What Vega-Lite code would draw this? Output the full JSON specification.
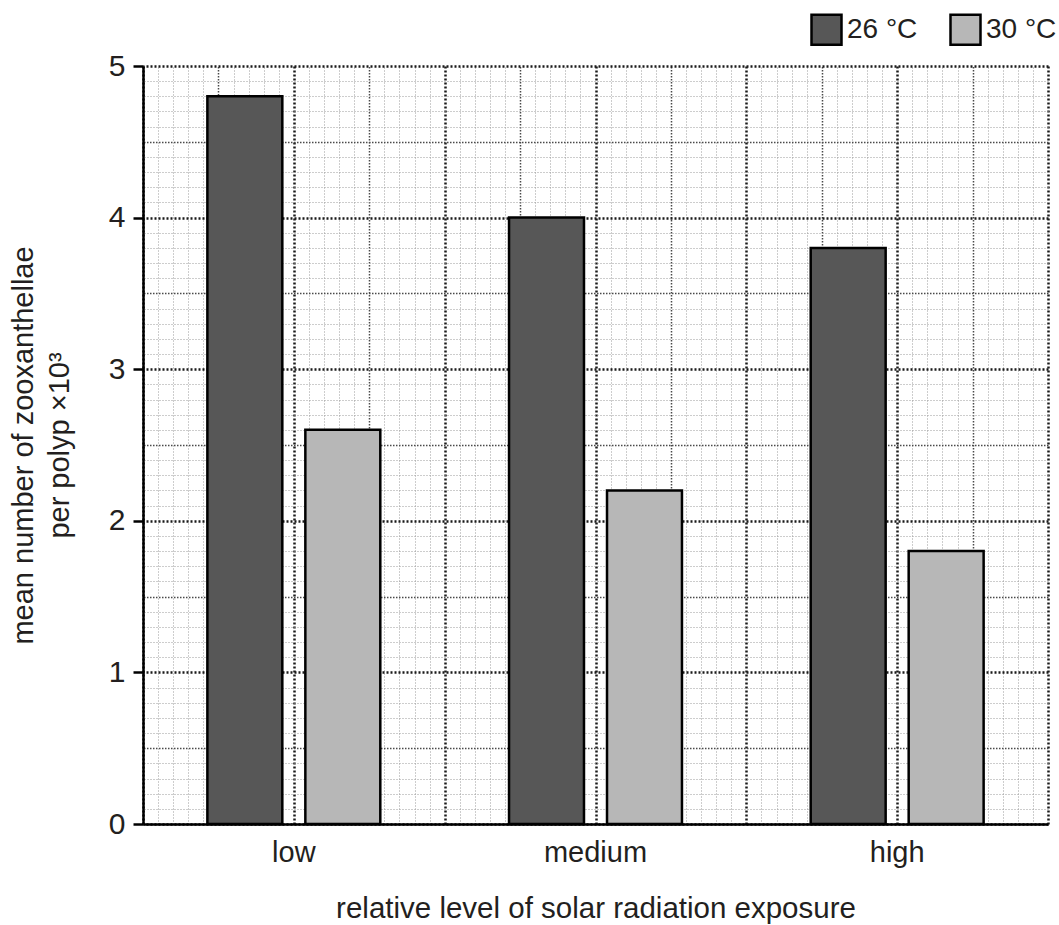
{
  "$schema": "https://vega.github.io/schema/vega-lite/v6.json",
  "width": 905,
  "height": 758,
  "autosize": "none",
  "padding": {"left": 143, "top": 66, "right": 11, "bottom": 101},
  "background": "white",
  "config": {"font": "Liberation Sans", "view": {"stroke": null}},
  "layer": [
    {
      "data": {"values": [{"gx": 0, "gy": 0}]},
      "mark": {"type": "point", "opacity": 0},
      "encoding": {
        "x": {
          "field": "gx", "type": "quantitative",
          "scale": {"domain": [0, 60], "nice": false, "zero": false},
          "axis": {
            "orient": "top", "title": null, "labels": false, "ticks": false, "domain": false,
            "grid": true,
            "values": [0,1,2,3,4,5,6,7,8,9,10,11,12,13,14,15,16,17,18,19,20,21,22,23,24,25,26,27,28,29,30,31,32,33,34,35,36,37,38,39,40,41,42,43,44,45,46,47,48,49,50,51,52,53,54,55,56,57,58,59,60],
            "gridColor": {"condition": [{"test": "datum.value % 10 === 0", "value": "#1a1a1a"}, {"test": "datum.value % 5 === 0", "value": "#4a4a4a"}], "value": "#9a9a9a"},
            "gridWidth": {"condition": [{"test": "datum.value % 10 === 0", "value": 2.5}, {"test": "datum.value % 5 === 0", "value": 1.5}], "value": 1},
            "gridDash": {"condition": [{"test": "datum.value % 10 === 0", "value": [2, 2]}, {"test": "datum.value % 5 === 0", "value": [1.5, 1.5]}], "value": [1, 2]},
            "gridOpacity": 1
          }
        },
        "y": {
          "field": "gy", "type": "quantitative",
          "scale": {"domain": [0, 50], "nice": false, "zero": false},
          "axis": {
            "orient": "right", "title": null, "labels": false, "ticks": false, "domain": false,
            "grid": true,
            "values": [0,1,2,3,4,5,6,7,8,9,10,11,12,13,14,15,16,17,18,19,20,21,22,23,24,25,26,27,28,29,30,31,32,33,34,35,36,37,38,39,40,41,42,43,44,45,46,47,48,49,50],
            "gridColor": {"condition": [{"test": "datum.value % 10 === 0", "value": "#1a1a1a"}, {"test": "datum.value % 5 === 0", "value": "#4a4a4a"}], "value": "#9a9a9a"},
            "gridWidth": {"condition": [{"test": "datum.value % 10 === 0", "value": 2.5}, {"test": "datum.value % 5 === 0", "value": 1.5}], "value": 1},
            "gridDash": {"condition": [{"test": "datum.value % 10 === 0", "value": [2, 2]}, {"test": "datum.value % 5 === 0", "value": [1.5, 1.5]}], "value": [1, 2]},
            "gridOpacity": 1
          }
        }
      }
    },
    {
      "data": {
        "values": [
          {"level": "low", "temp": "26 °C", "value": 4.8},
          {"level": "low", "temp": "30 °C", "value": 2.6},
          {"level": "medium", "temp": "26 °C", "value": 4.0},
          {"level": "medium", "temp": "30 °C", "value": 2.2},
          {"level": "high", "temp": "26 °C", "value": 3.8},
          {"level": "high", "temp": "30 °C", "value": 1.8}
        ]
      },
      "mark": {"type": "bar", "stroke": "#000000", "strokeWidth": 2.5},
      "encoding": {
        "x": {
          "field": "level", "type": "nominal", "sort": ["low", "medium", "high"],
          "scale": {"paddingInner": 0, "paddingOuter": 0},
          "axis": {
            "orient": "bottom", "title": "relative level of solar radiation exposure",
            "titleFontSize": 29.5, "titleFontWeight": "normal", "titleColor": "#231f20", "titlePadding": 27,
            "labelFontSize": 29, "labelColor": "#231f20", "labelAngle": 0, "labelPadding": 14,
            "ticks": false, "domain": true, "domainColor": "#000000", "domainWidth": 2.5
          }
        },
        "xOffset": {
          "field": "temp", "type": "nominal",
          "scale": {"paddingInner": 0.235, "paddingOuter": 0.657}
        },
        "y": {
          "field": "value", "type": "quantitative",
          "scale": {"domain": [0, 5], "nice": false},
          "axis": {
            "orient": "left", "values": [0, 1, 2, 3, 4, 5], "grid": false,
            "title": ["mean number of zooxanthellae", "per polyp ×10³"],
            "titleFontSize": 29, "titleFontWeight": "normal", "titleColor": "#231f20", "titlePadding": 34, "titleLineHeight": 36,
            "labelFontSize": 30, "labelColor": "#231f20", "labelPadding": 8,
            "tickSize": 10, "tickWidth": 2.5, "tickColor": "#000000",
            "domain": true, "domainColor": "#000000", "domainWidth": 2.5
          }
        },
        "color": {
          "field": "temp", "type": "nominal",
          "scale": {"domain": ["26 °C", "30 °C"], "range": ["#575757", "#b7b7b7"]},
          "legend": {
            "orient": "none", "legendX": 667, "legendY": -53, "direction": "horizontal",
            "title": null, "padding": 0,
            "symbolType": "square", "symbolSize": 900, "symbolStrokeColor": "#000000", "symbolStrokeWidth": 2.5, "symbolOpacity": 1,
            "labelFontSize": 28, "labelColor": "#231f20", "labelOffset": 4, "columnPadding": 27
          }
        }
      }
    }
  ],
  "resolve": {"scale": {"x": "independent", "y": "independent"}, "axis": {"x": "independent", "y": "independent"}}
}
